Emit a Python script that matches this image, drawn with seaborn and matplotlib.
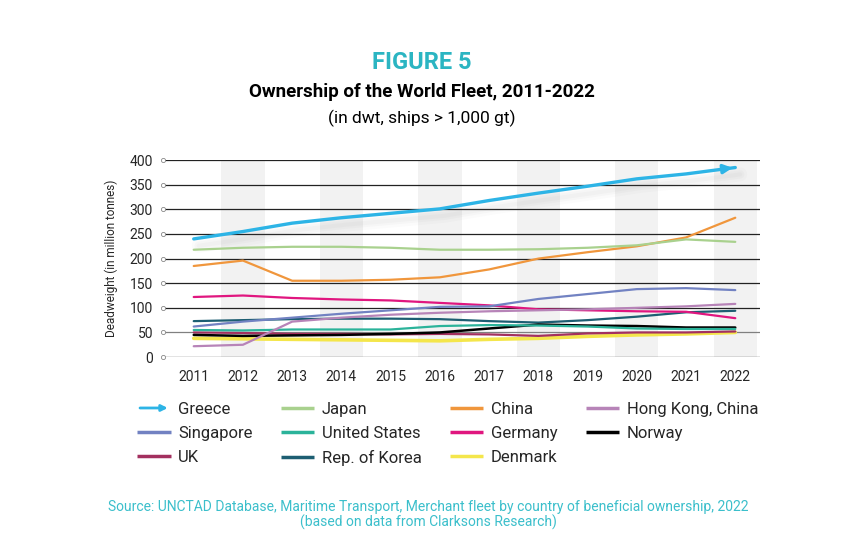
import numpy as np
import pandas as pd
import matplotlib
matplotlib.use("Agg")
import matplotlib.pyplot as plt
import seaborn as sns
from matplotlib.lines import Line2D
from matplotlib.patches import FancyArrowPatch
from matplotlib.legend_handler import HandlerBase

years = list(range(2011, 2023))

greece = [240, 255, 272, 283, 292, 301, 318, 333, 347, 362, 372, 385]
japan = [218, 222, 224, 224, 222, 218, 218, 219, 222, 227, 239, 234]
china = [185, 196, 155, 155, 157, 162, 178, 200, 213, 225, 243, 283]
hong_kong = [22, 25, 72, 80, 86, 90, 93, 95, 97, 100, 103, 108]
singapore = [62, 72, 80, 88, 95, 102, 103, 118, 128, 138, 140, 136]
united_states = [55, 54, 56, 56, 56, 63, 65, 64, 62, 58, 57, 57]
germany = [122, 125, 120, 117, 115, 110, 105, 97, 95, 93, 92, 79]
norway = [45, 43, 44, 45, 47, 50, 58, 66, 64, 63, 60, 60]
uk = [50, 49, 47, 47, 46, 47, 46, 43, 48, 50, 50, 52]
korea = [73, 75, 77, 78, 78, 77, 73, 70, 75, 82, 91, 94]
denmark = [38, 37, 36, 35, 34, 33, 36, 38, 42, 45, 47, 50]

countries = ["Greece", "Japan", "China", "Hong Kong, China", "Singapore", "United States",
             "Germany", "Norway", "UK", "Rep. of Korea", "Denmark"]
series = [greece, japan, china, hong_kong, singapore, united_states,
          germany, norway, uk, korea, denmark]
colors = ["#2DB4E6", "#A9D18E", "#F0963C", "#B784B8", "#7282C2", "#2BB39A",
          "#E0167F", "#000000", "#A3305F", "#1D5E72", "#F4E64B"]
widths = [2.4, 1.6, 1.6, 1.6, 1.6, 1.6, 1.6, 1.8, 1.6, 1.6, 2.6]

yticks = [0, 50, 100, 150, 200, 250, 300, 350, 400]

df = pd.DataFrame({
    "year": years * len(countries),
    "value": sum(series, []),
    "country": [c for c in countries for _ in years],
})

sns.set_style("white")
plt.rcParams["font.family"] = ["Roboto", "DejaVu Sans"]

fig = plt.figure(figsize=(8.43, 5.41), dpi=100)
ax = fig.add_axes([0.193, 0.340, 0.709, 0.364])

x0, x1 = 2010.37, 2022.51
ax.set_xlim(x0, x1)
ax.set_ylim(0, 400)

# alternating grey bands
for y in years:
    if y % 2 == 0:
        ax.axvspan(y - 0.44, y + 0.44, color="#F2F2F2", zorder=0, lw=0)

# gridlines
for t in yticks:
    ax.axhline(t, color="#808080" if t == 50 else "#222222", lw=0.9, zorder=1)
ax.scatter([x0] * len(yticks), yticks, s=9, facecolors="white", edgecolors="#888888",
           linewidths=0.6, zorder=3, clip_on=False)

# soft shadow under Greece
g = np.array(greece)
for lw, a in [(10, 0.03), (6, 0.04), (3, 0.04)]:
    ax.plot(np.array(years) + 0.1, g - 14, color="#808080", lw=lw, alpha=a,
            solid_capstyle="round", zorder=2)

order = countries[::-1]
for c in order:
    i = countries.index(c)
    sns.lineplot(data=df[df["country"] == c], x="year", y="value", color=colors[i],
                 lw=widths[i], ax=ax, legend=False, zorder=4 + (i == 0))

ax.annotate("", xy=(2022, greece[-1]), xytext=(2021.7, greece[-1] - 3.5),
            arrowprops=dict(arrowstyle="-|>", color=colors[0], lw=2.4, mutation_scale=13),
            zorder=6)

for s in ax.spines.values():
    s.set_visible(False)
ax.set_xticks(years)
ax.set_xticklabels([str(y) for y in years], fontsize=10)
ax.set_yticks(yticks)
ax.set_yticklabels([str(t) for t in yticks], fontsize=10)
ax.tick_params(length=0, pad=9)
ax.tick_params(axis="y", pad=7)
ax.set_xlabel("")
ax.set_ylabel("Deadweight (in million tonnes)", fontsize=8.5, labelpad=8)


class ArrowHandler(HandlerBase):
    def create_artists(self, legend, orig_handle, xdescent, ydescent, width, height, fontsize, trans):
        yy = -ydescent + height / 2
        arr = FancyArrowPatch((-xdescent, yy), (-xdescent + width, yy), arrowstyle="-|>",
                              mutation_scale=9, color=colors[0], lw=2, transform=trans)
        return [arr]


handles = []
for i, c in enumerate(countries):
    handles.append(Line2D([0], [0], color=colors[i], lw=2.5, solid_capstyle="butt"))
greece_handle = handles[0]

leg_order = [0, 4, 8, 1, 5, 9, 2, 6, 10, 3, 7]
fig.legend([handles[i] for i in leg_order], [countries[i] for i in leg_order],
           loc="upper left", bbox_to_anchor=(0.145, 0.285), ncol=4, frameon=False,
           fontsize=12, handlelength=2.0, handletextpad=0.45, labelspacing=0.55,
           columnspacing=1.7, handler_map={greece_handle: ArrowHandler()})

teal = "#2BB5C2"
fig.text(0.5, 0.885, "FIGURE 5", ha="center", va="center", fontsize=17,
         fontweight="bold", color=teal)
fig.text(0.5, 0.830, "Ownership of the World Fleet, 2011-2022", ha="center", va="center",
         fontsize=13.5, fontweight="bold", color="black")
fig.text(0.5, 0.782, "(in dwt, ships > 1,000 gt)", ha="center", va="center",
         fontsize=12.5, color="black")
fig.text(0.508, 0.063, "Source: UNCTAD Database, Maritime Transport, Merchant fleet by country of beneficial ownership, 2022",
         ha="center", va="center", fontsize=10, color="#3BBFCB")
fig.text(0.508, 0.035, "(based on data from Clarksons Research)",
         ha="center", va="center", fontsize=10, color="#3BBFCB")

fig.savefig("out.png", dpi=100)
